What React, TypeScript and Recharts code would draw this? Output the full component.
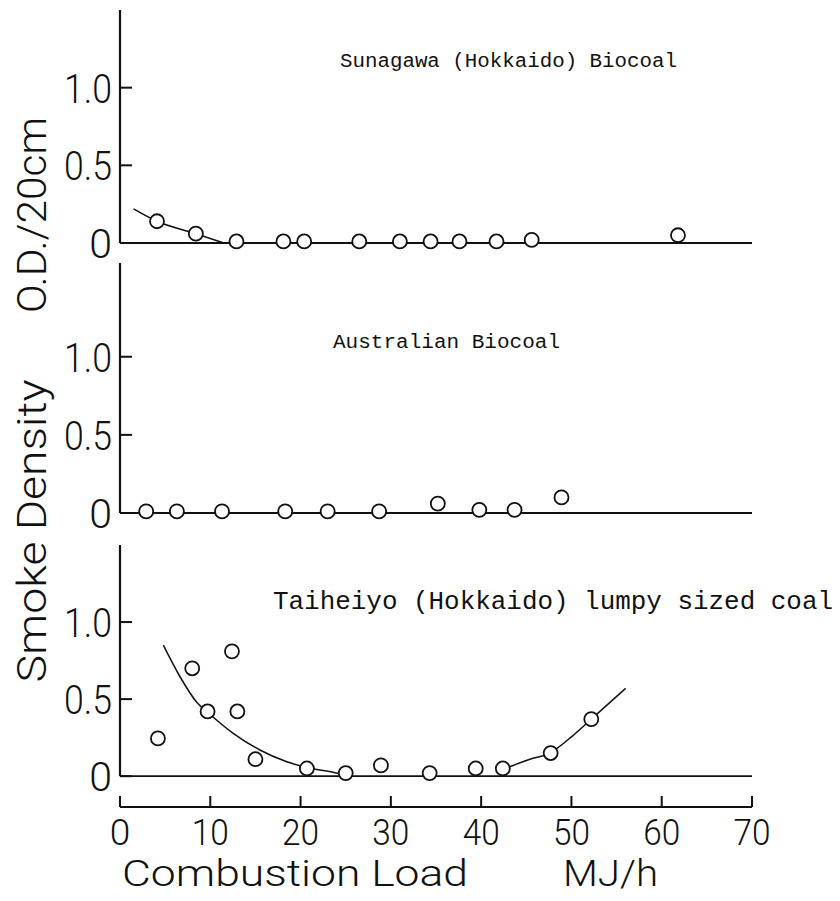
import { ComposedChart, Line, Scatter, XAxis, YAxis, ReferenceLine } from 'recharts';

const W = 840;
const H = 901;
const INK = '#111';
const NUM_FONT = "Roboto, 'DejaVu Sans', sans-serif";
const TYPE_FONT = "'Liberation Mono', 'DejaVu Sans Mono', monospace";

// combustion load axis (MJ/h)
const loadTicks = [0, 10, 20, 30, 40, 50, 60, 70];
const densityTicks = [0, 0.5, 1];
const densityTickText: Record<number, string> = { 0: '0', 0.5: '0.5', 1: '1.0' };

// Sunagawa (Hokkaido) Biocoal
const sunagawaLoad = [4.1, 8.4, 12.9, 18.1, 20.4, 26.5, 31.0, 34.4, 37.6, 41.7, 45.6, 61.8];
const sunagawaDensity = [0.14, 0.06, 0.01, 0.01, 0.01, 0.01, 0.01, 0.01, 0.01, 0.01, 0.02, 0.05];
const sunagawaCurveLoad = [1.5, 4.1, 8.4, 11.5];
const sunagawaCurveDensity = [0.22, 0.14, 0.06, 0.0];

// Australian Biocoal
const australianLoad = [2.9, 6.3, 11.3, 18.3, 23.0, 28.7, 35.2, 39.8, 43.7, 48.9];
const australianDensity = [0.01, 0.01, 0.01, 0.01, 0.01, 0.01, 0.06, 0.02, 0.02, 0.1];

// Taiheiyo (Hokkaido) lumpy sized coal
const taiheiyoLoad = [4.2, 8.0, 9.7, 12.4, 13.0, 15.0, 20.7, 25.0, 28.9, 34.3, 39.4, 42.4, 47.7, 52.2];
const taiheiyoDensity = [0.245, 0.7, 0.42, 0.81, 0.42, 0.11, 0.05, 0.02, 0.07, 0.02, 0.05, 0.05, 0.15, 0.37];
const taiheiyoLeftLoad = [4.8, 6.6, 8.5, 9.8, 12.5, 15.5, 18.4, 20.7, 23.6, 25.5];
const taiheiyoLeftDensity = [0.85, 0.65, 0.48, 0.41, 0.28, 0.17, 0.095, 0.056, 0.026, 0.0];
const taiheiyoRightLoad = [43.1, 45.4, 47.6, 50.1, 52.2, 56.0];
const taiheiyoRightDensity = [0.06, 0.11, 0.15, 0.26, 0.37, 0.57];

const zip = (xs: number[], ys: number[]) => xs.map((x, i) => ({ x, y: ys[i] }));

const DensityTick = (props: any) => {
  const { x, y, payload } = props;
  const label = densityTickText[payload.value] ?? String(payload.value);
  return (
    <g>
      <line x1={x} x2={x + 12} y1={y} y2={y} stroke={INK} strokeWidth={2} />
      <text
        x={x - 8}
        y={y + 15}
        textAnchor="end"
        fontFamily={NUM_FONT}
        fontWeight={300}
        fontSize={41}
        fill={INK}
        textLength={label.length > 1 ? 48 : undefined}
        lengthAdjust="spacingAndGlyphs"
      >
        {label}
      </text>
    </g>
  );
};

const LoadTick = (props: any) => {
  const { x, y, payload } = props;
  const label = String(payload.value);
  return (
    <g>
      <line x1={x} x2={x} y1={y} y2={y - 11} stroke={INK} strokeWidth={2} />
      <text
        x={x}
        y={y + 38}
        textAnchor="middle"
        fontFamily={NUM_FONT}
        fontWeight={300}
        fontSize={37}
        fill={INK}
        textLength={label.length > 1 ? 37 : undefined}
        lengthAdjust="spacingAndGlyphs"
      >
        {label}
      </text>
    </g>
  );
};

const Ring = (props: any) => {
  const { cx, cy } = props;
  return <circle cx={cx} cy={cy} r={7} fill="#fff" stroke={INK} strokeWidth={1.8} />;
};

type PanelProps = {
  points: { x: number; y: number }[];
  curves: { x: number; y: number }[][];
  yMin: number;
  yMax: number;
  top: number;
  bottom: number;
  showLoadAxis?: boolean;
};

function Panel({ points, curves, yMin, yMax, top, bottom, showLoadAxis = false }: PanelProps) {
  return (
    <div style={{ position: 'absolute', left: 0, top: 0 }}>
      <ComposedChart
        width={W}
        height={H}
        margin={{ top, right: 88, bottom: showLoadAxis ? 0 : H - bottom, left: 0 }}
      >
        <XAxis
          type="number"
          dataKey="x"
          domain={[0, 70]}
          ticks={loadTicks}
          interval={0}
          hide={!showLoadAxis}
          height={showLoadAxis ? H - bottom : 0}
          axisLine={{ stroke: INK, strokeWidth: 2 }}
          tickLine={false}
          tickSize={0}
          tickMargin={0}
          tick={<LoadTick />}
        />
        <YAxis
          type="number"
          dataKey="y"
          domain={[yMin, yMax]}
          ticks={densityTicks}
          interval={0}
          width={120}
          axisLine={false}
          tickLine={false}
          tickSize={0}
          tickMargin={0}
          tick={<DensityTick />}
        />
        <ReferenceLine
          segment={[
            { x: 0, y: 0 },
            { x: 0, y: yMax },
          ]}
          stroke={INK}
          strokeWidth={2.2}
        />
        <ReferenceLine y={0} stroke={INK} strokeWidth={1.8} />
        {curves.map((c, i) => (
          <Line
            key={i}
            data={c}
            dataKey="y"
            type="monotone"
            stroke={INK}
            strokeWidth={1.5}
            dot={false}
            isAnimationActive={false}
          />
        ))}
        <Scatter data={points} dataKey="y" shape={<Ring />} isAnimationActive={false} />
      </ComposedChart>
    </div>
  );
}

export default function App() {
  return (
    <div style={{ position: 'absolute', left: 0, top: 0, width: W, height: H, background: '#fff' }}>
      <Panel
        points={zip(sunagawaLoad, sunagawaDensity)}
        curves={[zip(sunagawaCurveLoad, sunagawaCurveDensity)]}
        yMin={0}
        yMax={1.5}
        top={10}
        bottom={243}
      />
      <Panel
        points={zip(australianLoad, australianDensity)}
        curves={[]}
        yMin={0}
        yMax={1.6}
        top={263}
        bottom={513}
      />
      <Panel
        points={zip(taiheiyoLoad, taiheiyoDensity)}
        curves={[
          zip(taiheiyoLeftLoad, taiheiyoLeftDensity),
          zip(taiheiyoRightLoad, taiheiyoRightDensity),
        ]}
        yMin={-0.2}
        yMax={1.5}
        top={545}
        bottom={807}
        showLoadAxis
      />
      <svg
        width={W}
        height={H}
        style={{ position: 'absolute', left: 0, top: 0, pointerEvents: 'none' }}
      >
        <g fill={INK}>
          <text x={340} y={67} fontFamily={TYPE_FONT} fontSize={20} textLength={337} lengthAdjust="spacingAndGlyphs">
            Sunagawa (Hokkaido) Biocoal
          </text>
          <text x={333} y={348} fontFamily={TYPE_FONT} fontSize={20} textLength={227} lengthAdjust="spacingAndGlyphs">
            Australian Biocoal
          </text>
          <text x={273} y={609} fontFamily={TYPE_FONT} fontSize={25} textLength={560} lengthAdjust="spacingAndGlyphs">
            Taiheiyo (Hokkaido) lumpy sized coal
          </text>
          <text
            x={46}
            y={531}
            transform="rotate(-90 46 531)"
            textAnchor="middle"
            fontFamily={NUM_FONT}
            fontWeight={300}
            fontSize={41}
            textLength={303}
            lengthAdjust="spacingAndGlyphs"
          >
            Smoke Density
          </text>
          <text
            x={46}
            y={215}
            transform="rotate(-90 46 215)"
            textAnchor="middle"
            fontFamily={NUM_FONT}
            fontWeight={300}
            fontSize={41}
            textLength={196}
            lengthAdjust="spacingAndGlyphs"
          >
            O.D./20cm
          </text>
          <text x={122} y={886} fontFamily={NUM_FONT} fontWeight={300} fontSize={37} textLength={346} lengthAdjust="spacingAndGlyphs">
            Combustion Load
          </text>
          <text x={563} y={886} fontFamily={NUM_FONT} fontWeight={300} fontSize={37} textLength={95} lengthAdjust="spacingAndGlyphs">
            MJ/h
          </text>
        </g>
      </svg>
    </div>
  );
}
